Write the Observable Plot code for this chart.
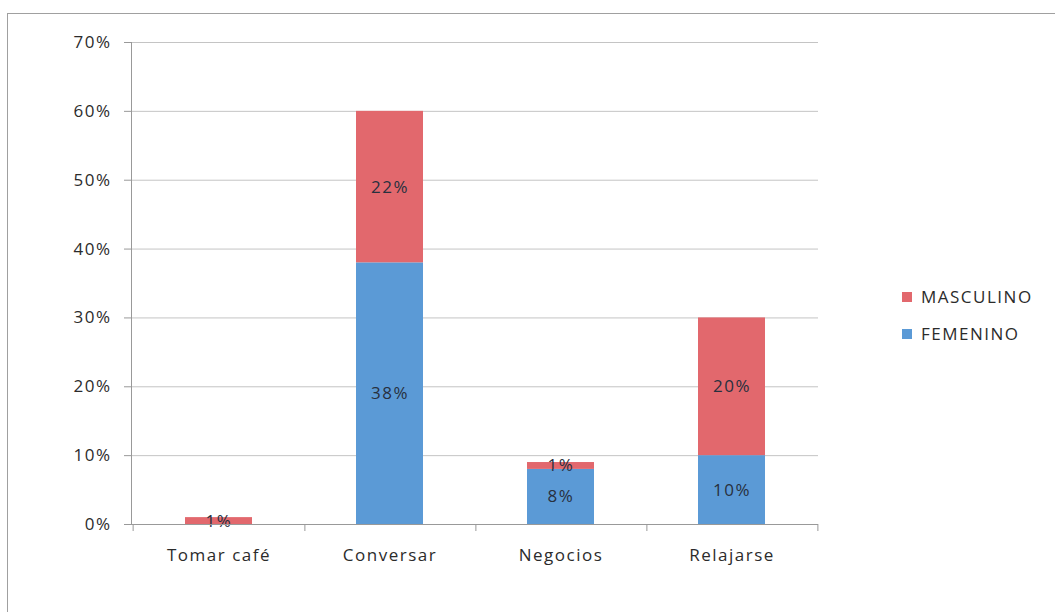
<!DOCTYPE html>
<html>
<head>
<meta charset="utf-8">
<script src="https://cdn.jsdelivr.net/npm/d3@7"></script>
<script src="https://cdn.jsdelivr.net/npm/@observablehq/plot@0.6"></script>
<style>
  body { margin: 0; background: #fff; }
  #chart { position: relative; width: 1055px; height: 612px; overflow: hidden; font-family: "Open Sans", sans-serif; }
  #frame { position: absolute; left: 7px; top: 13px; right: -10px; bottom: -10px;
           border-top: 1.5px solid #a0a0a0; border-left: 1.5px solid #a0a0a0; pointer-events: none; }
  #chart svg { position: absolute; left: 0; top: 0; }
  #chart svg text { letter-spacing: 1.5px; }
  .legend { position: absolute; left: 902px; top: 278px; font-size: 17px; letter-spacing: 1.5px; color: #2b2b2b; }
  .legend div { display: flex; align-items: center; height: 37px; }
  .legend span.sw { width: 10px; height: 10px; margin-right: 9px; display: inline-block; }
</style>
</head>
<body>
<div id="chart"><div id="frame"></div></div>
<script>
// Motivo de visita por sexo (porcentaje del total)
const categorias = ["Tomar café", "Conversar", "Negocios", "Relajarse"];
const series = ["FEMENINO", "MASCULINO"];
const femenino = [0, 38, 8, 10];
const masculino = [1, 22, 1, 20];
const ticksY = [0, 10, 20, 30, 40, 50, 60, 70];

const colores = ["#5b9ad6", "#e2686d"];

// filas largas: femenino primero para que quede en la base de la pila
const filas = [
  ...categorias.map((c, i) => ({categoria: c, sexo: series[0], valor: femenino[i]})),
  ...categorias.map((c, i) => ({categoria: c, sexo: series[1], valor: masculino[i]}))
];

const W = 1055, H = 612;
const mL = 131, mR = 237, mT = 42, mB = 88;
const paso = (W - mL - mR) / categorias.length;

const chart = Plot.plot({
  width: W,
  height: H,
  marginLeft: mL,
  marginRight: mR,
  marginTop: mT,
  marginBottom: mB,
  style: {fontFamily: "'Open Sans', sans-serif", background: "transparent", color: "#2b2b2b"},
  x: {domain: categorias, paddingInner: 0.61, paddingOuter: 0.305, label: null},
  y: {domain: [0, 70], ticks: ticksY, label: null},
  color: {domain: series, range: colores},
  marks: [
    Plot.gridY(ticksY, {stroke: "#c4c4c4", strokeOpacity: 1}),
    Plot.axisY(ticksY, {tickSize: 7, tickPadding: 13, tickFormat: d => d + "%", fontSize: 17, stroke: "#999", fill: "#2b2b2b"}),
    Plot.frame({anchor: "left", stroke: "#999"}),
    Plot.barY(filas, {x: "categoria", y: "valor", fill: "sexo"}),
    Plot.text(filas, Plot.stackY({
      x: "categoria", y: "valor", z: "sexo",
      text: d => d.valor > 0 ? d.valor + "%" : null,
      fontSize: 17, fill: "#28303e"
    })),
    Plot.ruleY([0], {stroke: "#999"}),
    Plot.axisX({tickSize: 0, tickPadding: 24, fontSize: 17, fill: "#2b2b2b", label: null}),
    Plot.axisX({tickSize: 7, text: null, dx: paso / 2, stroke: "#999", label: null}),
    Plot.axisX([categorias[0]], {tickSize: 7, text: null, dx: -paso / 2, stroke: "#999", label: null})
  ]
});

document.getElementById("chart").appendChild(chart);

// leyenda (MASCULINO arriba, como en la pila)
const leyenda = document.createElement("div");
leyenda.className = "legend";
[1, 0].forEach(i => {
  const fila = document.createElement("div");
  const sw = document.createElement("span");
  sw.className = "sw";
  sw.style.background = colores[i];
  fila.appendChild(sw);
  fila.appendChild(document.createTextNode(series[i]));
  leyenda.appendChild(fila);
});
document.getElementById("chart").appendChild(leyenda);
</script>
</body>
</html>
